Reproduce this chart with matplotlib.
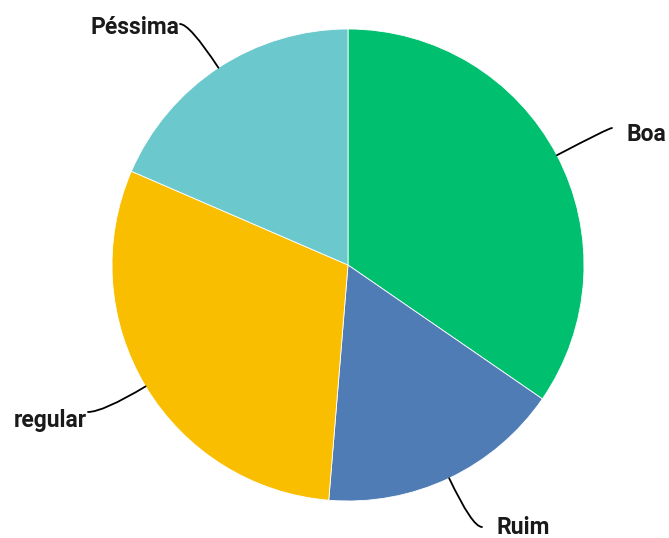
import numpy as np
import matplotlib.pyplot as plt

labels = ['Boa', 'Ruim', 'regular', 'Péssima']
values = [34.6, 16.7, 30.2, 18.5]
colors = ['#00BF6F', '#507CB6', '#F9BE00', '#6BC8CD']

# pixel layout of the reference
W, H = 669, 538
cx, cy, R = 348, 265, 236

def px(x, y):
    return (x - cx) / R, (cy - y) / R

# where each leader line ends (pixels) and the text anchor
line_end = {'Boa': (612, 128), 'Ruim': (482, 527), 'regular': (88, 412), 'Péssima': (180, 24)}
text_pos = {'Boa': (626, 135, 'left'), 'Ruim': (496, 527, 'left'),
            'regular': (87, 421, 'right'), 'Péssima': (179, 28, 'right')}

fig = plt.figure(figsize=(W / 100, H / 100), dpi=100)
ax = fig.add_axes([0, 0, 1, 1])

wedges, _ = ax.pie(values, colors=colors, startangle=90, counterclock=False,
                   radius=1, center=(0, 0), frame=True,
                   wedgeprops=dict(edgecolor='white', linewidth=0.6))
ax.set_xlim(-cx / R, (W - cx) / R)
ax.set_ylim(-(H - cy) / R, cy / R)
ax.set_aspect('equal')
ax.axis('off')

for w, lab in zip(wedges, labels):
    mid = np.deg2rad((w.theta1 + w.theta2) / 2)
    edge = (np.cos(mid), np.sin(mid))
    le = px(*line_end[lab])
    ax.annotate('', xy=edge, xytext=le,
                arrowprops=dict(arrowstyle='-', color='black', lw=1.3,
                                shrinkA=0, shrinkB=0,
                                connectionstyle='angle3,angleA=0,angleB=%f' % np.rad2deg(mid)))
    tx, ty, ha = text_pos[lab]
    ax.text(*px(tx, ty), lab, ha=ha, va='center', fontsize=16.5, fontweight='bold',
            family=['Roboto', 'DejaVu Sans'], color='#1a1a1a')

fig.savefig('out.png', dpi=100)
